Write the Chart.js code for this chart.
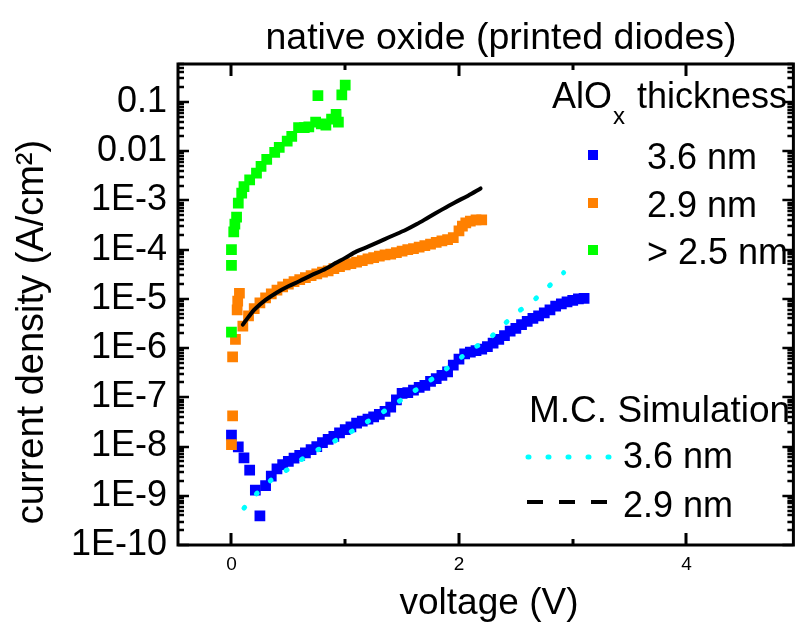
<!DOCTYPE html>
<html>
<head>
<meta charset="utf-8">
<title>native oxide (printed diodes)</title>
<script src="https://cdn.jsdelivr.net/npm/chart.js@4.4.1/dist/chart.umd.min.js"></script>
<style>
  html, body { margin: 0; padding: 0; background: #fff; }
  canvas { display: block; }
</style>
</head>
<body>
<canvas id="chart" width="801" height="630"></canvas>
<script>
/* ------------------------------------------
   DATA
   ------------------------------------------ */
// measured 3.6 nm (blue squares)
var blueX = [0.00, 0.06, 0.11, 0.16, 0.21, 0.25, 0.30, 0.35, 0.40, 0.45, 0.50, 0.55, 0.60, 0.65, 0.70,
  0.75, 0.80, 0.85, 0.90, 0.95, 1.00, 1.05, 1.10, 1.15, 1.20, 1.25, 1.30, 1.35, 1.40, 1.45, 1.50,
  1.55, 1.60, 1.65, 1.70, 1.75, 1.80, 1.85, 1.90, 1.95, 2.00, 2.05, 2.10, 2.15, 2.20, 2.25, 2.30,
  2.35, 2.40, 2.45, 2.50, 2.55, 2.60, 2.65, 2.70, 2.75, 2.80, 2.85, 2.90, 2.95, 3.00, 3.05, 3.10];
var blueY = [1.7e-8, 9.8e-9, 5.9e-9, 3.3e-9, 1.3e-9, 3.9e-10, 1.6e-9, 2.5e-9, 3.5e-9, 4.3e-9, 5.0e-9,
  5.8e-9, 6.6e-9, 7.4e-9, 8.7e-9, 1.0e-8, 1.2e-8, 1.4e-8, 1.6e-8, 1.9e-8, 2.2e-8, 2.5e-8, 3.0e-8,
  3.3e-8, 3.6e-8, 4.0e-8, 4.5e-8, 5.2e-8, 6.3e-8, 8.9e-8, 1.2e-7, 1.25e-7, 1.4e-7, 1.6e-7, 1.75e-7,
  2.1e-7, 2.4e-7, 2.8e-7, 3.3e-7, 4.5e-7, 6.0e-7, 7.6e-7, 8.3e-7, 8.9e-7, 9.5e-7, 1.07e-6, 1.26e-6,
  1.5e-6, 1.8e-6, 2.2e-6, 2.5e-6, 3.0e-6, 3.5e-6, 4.0e-6, 4.5e-6, 5.2e-6, 6.0e-6, 7.1e-6, 7.9e-6,
  8.7e-6, 9.3e-6, 1.0e-5, 1.02e-5];

// measured 2.9 nm (orange squares)
var orangeX = [0.00, 0.01, 0.01, 0.035, 0.05, 0.055, 0.07, 0.10, 0.15, 0.20, 0.25, 0.30, 0.35, 0.40,
  0.45, 0.50, 0.55, 0.60, 0.65, 0.70, 0.75, 0.80, 0.85, 0.90, 0.95, 1.00, 1.05, 1.10, 1.15, 1.20,
  1.25, 1.30, 1.35, 1.40, 1.45, 1.50, 1.55, 1.60, 1.65, 1.70, 1.75, 1.80, 1.85, 1.90, 1.95, 2.00,
  2.03, 2.06, 2.10, 2.15, 2.20];
var orangeY = [1.1e-8, 4.2e-8, 6.6e-7, 1.5e-6, 6.0e-6, 9.0e-6, 1.3e-5, 2.8e-6, 4.5e-6, 6.3e-6, 8.3e-6,
  1.05e-5, 1.26e-5, 1.5e-5, 1.75e-5, 2.0e-5, 2.25e-5, 2.45e-5, 2.7e-5, 2.95e-5, 3.2e-5, 3.5e-5,
  3.7e-5, 4.1e-5, 4.5e-5, 4.9e-5, 5.2e-5, 5.6e-5, 6.0e-5, 6.5e-5, 6.9e-5, 7.4e-5, 7.8e-5, 8.1e-5,
  8.7e-5, 9.3e-5, 1.0e-4, 1.05e-4, 1.12e-4, 1.2e-4, 1.3e-4, 1.4e-4, 1.5e-4, 1.6e-4, 1.75e-4,
  2.4e-4, 3.0e-4, 3.5e-4, 3.8e-4, 4.0e-4, 4.0e-4];

// measured > 2.5 nm (green squares)
var greenX = [0.00, 0.00, 0.00, 0.02, 0.03, 0.045, 0.06, 0.09, 0.11, 0.16, 0.22, 0.26, 0.31, 0.38,
  0.42, 0.49, 0.53, 0.59, 0.64, 0.68, 0.74, 0.79, 0.83, 0.88, 0.92, 0.94, 0.76, 0.97, 1.00];
var greenY = [2.1e-6, 4.8e-5, 1.0e-4, 2.3e-4, 3.3e-4, 4.6e-4, 8.8e-4, 1.4e-3, 1.9e-3, 2.6e-3, 3.6e-3,
  4.9e-3, 6.8e-3, 9.4e-3, 1.2e-2, 1.6e-2, 2.0e-2, 3.0e-2, 3.0e-2, 3.1e-2, 3.9e-2, 3.6e-2, 3.4e-2,
  4.5e-2, 5.6e-2, 3.9e-2, 0.134, 0.14, 0.22];

// M.C. simulation 3.6 nm (cyan dotted)
var sim36X = [0.11, 0.22, 0.35, 0.50, 0.65, 0.79, 0.96, 1.11, 1.26, 1.40, 1.54, 1.69, 1.83, 1.97,
  2.10, 2.26, 2.38, 2.52, 2.66, 2.79, 2.92];
var sim36Y = [5.6e-10, 1.1e-9, 2.1e-9, 3.5e-9, 6.2e-9, 9.4e-9, 1.5e-8, 2.4e-8, 4.0e-8, 6.3e-8,
  1.06e-7, 1.8e-7, 3.0e-7, 5.2e-7, 9.2e-7, 1.5e-6, 2.8e-6, 5.5e-6, 9.4e-6, 1.8e-5, 3.4e-5];

// M.C. simulation 2.9 nm (black)
var sim29X = [0.10, 0.15, 0.20, 0.30, 0.40, 0.50, 0.60, 0.70, 0.80, 0.92, 1.00, 1.10, 1.20, 1.30,
  1.40, 1.53, 1.63, 1.73, 1.85, 1.96, 2.08, 2.19];
var sim29Y = [3.0e-6, 4.3e-6, 6.0e-6, 9.5e-6, 1.35e-5, 1.8e-5, 2.3e-5, 3.0e-5, 3.8e-5, 5.4e-5,
  6.8e-5, 9.2e-5, 1.15e-4, 1.45e-4, 1.85e-4, 2.5e-4, 3.3e-4, 4.5e-4, 6.5e-4, 9.0e-4, 1.25e-3,
  1.75e-3];

// axes
var xMajorTicks = [0, 2, 4];
var xMinorTicks = [1, 3];
var yTickValues = [1e-10, 1e-9, 1e-8, 1e-7, 1e-6, 1e-5, 1e-4, 1e-3, 0.01, 0.1];
var yTickLabels = ['1E-10', '1E-9', '1E-8', '1E-7', '1E-6', '1E-5', '1E-4', '1E-3', '0.01', '0.1'];

var measuredLabels = ['3.6 nm', '2.9 nm', '> 2.5 nm'];
var simLabels = ['3.6 nm', '2.9 nm'];

(function () {
  'use strict';

  var FONT = "'Liberation Sans', Arial, sans-serif";

  function pts(xs, ys) {
    return xs.map(function (x, i) { return { x: x, y: ys[i] }; });
  }

  function squares(label, xs, ys, color, order) {
    return {
      type: 'scatter',
      label: label,
      data: pts(xs, ys),
      pointStyle: 'rect',
      pointRadius: 7.6,
      pointBorderWidth: 0,
      backgroundColor: color,
      borderColor: color,
      order: order
    };
  }

  /* ------------------------------------------
     FRAME, TICK MARKS AND TEXT
     ------------------------------------------ */
  var decorPlugin = {
    id: 'decor',
    afterDraw: function (chart) {
      var ctx = chart.ctx;
      var a = chart.chartArea;
      var xs = chart.scales.x;
      var ys = chart.scales.y;

      ctx.save();
      ctx.strokeStyle = '#000';
      ctx.lineWidth = 3;
      ctx.lineCap = 'butt';

      function tickX(v, len) {
        var px = Math.round(xs.getPixelForValue(v));
        ctx.beginPath();
        ctx.moveTo(px, a.bottom); ctx.lineTo(px, a.bottom - len);
        ctx.moveTo(px, a.top); ctx.lineTo(px, a.top + len);
        ctx.stroke();
      }
      function tickY(v, len) {
        var py = Math.round(ys.getPixelForValue(v));
        if (py < a.top || py > a.bottom) return;
        ctx.beginPath();
        ctx.moveTo(a.left, py); ctx.lineTo(a.left + len, py);
        ctx.moveTo(a.right, py); ctx.lineTo(a.right - len, py);
        ctx.stroke();
      }

      xMajorTicks.forEach(function (v) { tickX(v, 12); });
      xMinorTicks.forEach(function (v) { tickX(v, 6); });

      ctx.lineWidth = 2.5;
      yTickValues.forEach(function (v) {
        tickY(v, 11);
        for (var k = 2; k < 10; k++) tickY(v * k, 6);
      });

      ctx.lineWidth = 3;
      ctx.strokeRect(a.left, a.top, a.right - a.left, a.bottom - a.top);

      // titles
      ctx.fillStyle = '#000';
      ctx.textBaseline = 'alphabetic';
      ctx.textAlign = 'center';
      ctx.font = '37.5px ' + FONT;
      ctx.fillText('native oxide (printed diodes)', 501, 49);
      ctx.font = '37px ' + FONT;
      ctx.fillText('voltage (V)', 489, 614);

      ctx.save();
      ctx.translate(43, 332);
      ctx.rotate(-Math.PI / 2);
      ctx.font = '38px ' + FONT;
      ctx.fillText('current density (A/cm\u00b2)', 0, 0);
      ctx.restore();

      // legend: measured
      ctx.textAlign = 'left';
      ctx.font = '36px ' + FONT;
      ctx.fillText('AlO', 552, 108);
      ctx.font = '24px ' + FONT;
      ctx.fillText('x', 613, 124);
      ctx.font = '36px ' + FONT;
      ctx.fillText('thickness', 637, 108);

      var colors = chart.data.datasets.slice(0, 3).map(function (d) { return d.backgroundColor; });
      var rowY = [155, 203, 250];
      measuredLabels.forEach(function (t, i) {
        ctx.fillStyle = colors[i];
        ctx.fillRect(588, rowY[i] - 5, 10, 10);
        ctx.fillStyle = '#000';
        ctx.fillText(t, 647, rowY[i] + 14);
      });

      // legend: simulation
      ctx.font = '37px ' + FONT;
      ctx.fillText('M.C. Simulation', 529, 422);
      ctx.font = '36px ' + FONT;
      ctx.fillText(simLabels[0], 623, 468);
      ctx.fillText(simLabels[1], 623, 517);

      ctx.strokeStyle = '#00ffff';
      ctx.lineWidth = 5;
      ctx.lineCap = 'round';
      ctx.setLineDash([1, 19]);
      ctx.beginPath();
      ctx.moveTo(528, 457); ctx.lineTo(610, 457);
      ctx.stroke();

      ctx.strokeStyle = '#000';
      ctx.lineWidth = 4;
      ctx.lineCap = 'butt';
      ctx.setLineDash([16, 16]);
      ctx.beginPath();
      ctx.moveTo(527, 502); ctx.lineTo(610, 502);
      ctx.stroke();

      ctx.restore();
    }
  };

  /* ------------------------------------------
     CHART
     ------------------------------------------ */
  new Chart(document.getElementById('chart').getContext('2d'), {
    type: 'scatter',
    data: {
      datasets: [
        squares('3.6 nm', blueX, blueY, '#0000ff', 4),
        squares('2.9 nm', orangeX, orangeY, '#ff8000', 3),
        squares('> 2.5 nm', greenX, greenY, '#00ff00', 2),
        {
          type: 'line',
          label: 'M.C. 3.6 nm',
          data: pts(sim36X, sim36Y),
          borderColor: '#00ffff',
          borderWidth: 5,
          borderDash: [1, 18],
          borderCapStyle: 'round',
          pointRadius: 0,
          fill: false,
          tension: 0,
          order: 1
        },
        {
          type: 'line',
          label: 'M.C. 2.9 nm',
          data: pts(sim29X, sim29Y),
          borderColor: '#000000',
          borderWidth: 4,
          borderCapStyle: 'round',
          borderJoinStyle: 'round',
          pointRadius: 0,
          fill: false,
          tension: 0.3,
          order: 0
        }
      ]
    },
    options: {
      responsive: false,
      animation: false,
      layout: { padding: { top: 64, right: 3, left: 0, bottom: 0 } },
      plugins: {
        legend: { display: false },
        title: { display: false },
        tooltip: { enabled: false }
      },
      scales: {
        x: {
          type: 'linear',
          min: -0.47,
          max: 4.94,
          grid: { display: false, drawTicks: false },
          border: { display: false },
          afterBuildTicks: function (scale) {
            scale.ticks = xMajorTicks.map(function (v) { return { value: v }; });
          },
          afterFit: function (scale) { scale.height = 85; },
          ticks: {
            color: '#000',
            padding: 8,
            maxRotation: 0,
            autoSkip: false,
            font: { family: FONT, size: 19 }
          }
        },
        y: {
          type: 'logarithmic',
          min: 1e-10,
          max: 0.59,
          grid: { display: false, drawTicks: false },
          border: { display: false },
          afterBuildTicks: function (scale) {
            scale.ticks = yTickValues.map(function (v) { return { value: v }; });
          },
          afterFit: function (scale) { scale.width = 178; },
          ticks: {
            color: '#000',
            padding: 11,
            autoSkip: false,
            font: { family: FONT, size: 36 },
            callback: function (v) {
              var i = yTickValues.indexOf(v);
              return i >= 0 ? yTickLabels[i] : '';
            }
          }
        }
      }
    },
    plugins: [decorPlugin]
  });

})();
</script>
</body>
</html>
